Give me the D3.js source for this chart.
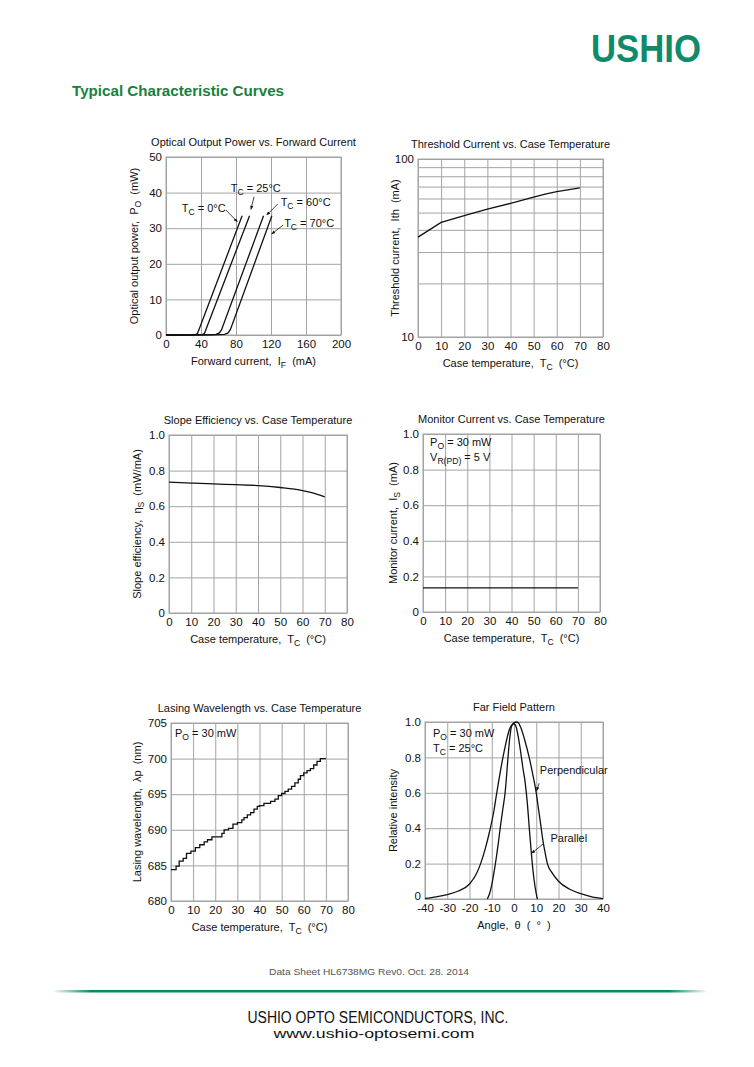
<!DOCTYPE html>
<html>
<head>
<meta charset="utf-8">
<script src="https://cdn.jsdelivr.net/npm/d3@7"></script>
<style>
  body { margin: 0; background: #fff; }
  svg { display: block; }
  text { font-family: "Liberation Sans", Arial, sans-serif; fill: #111; white-space: pre; }
</style>
</head>
<body>
<svg id="page" width="754" height="1067"></svg>
<script>
// ---- data ----
const opTicksX = [0, 40, 80, 120, 160, 200];
const opTicksY = [0, 10, 20, 30, 40, 50];
const op0 = [[0, 0], [25, 0.05], [34, 0.2], [36, 0.4], [87, 33.5]];
const op25 = [[0, 0], [30, 0.05], [42, 0.2], [44, 0.5], [95.5, 33.5]];
const op60 = [[0, 0], [45, 0.05], [57, 0.2], [61, 0.6], [63.5, 1.5], [65.5, 2.8], [111.5, 33.5]];
const op70 = [[0, 0], [55, 0.05], [67, 0.2], [71, 0.6], [73.5, 1.5], [75.5, 2.8], [121, 33.5]];

const tempTicks = [0, 10, 20, 30, 40, 50, 60, 70, 80];
const ithTicks = [10, 20, 30, 40, 50, 60, 70, 80, 90, 100];
const ith = [[0, 36.4], [10, 44], [20, 48], [30, 52.3], [40, 56.3], [50, 61], [55, 63.5], [60, 65.5], [70, 68.8]];

const unitTicks = [0, 0.2, 0.4, 0.6, 0.8, 1.0];
const slope = [[0, 0.735], [10, 0.73], [20, 0.725], [30, 0.721], [40, 0.716], [50, 0.705], [60, 0.688], [65, 0.673], [70, 0.652]];
const monitor = [[0, 0.135], [70, 0.135]];

const wlTicks = [680, 685, 690, 695, 700, 705];
const wavelength = [
  [0, 684.4], [2.3, 684.9], [3.7, 685.6], [5.5, 686.0], [7, 686.7], [9, 687.0], [11, 687.5],
  [13, 687.9], [15, 688.3], [16.5, 688.6], [18.5, 689.0], [23, 689.5], [24, 690.0], [26, 690.2],
  [28, 690.8], [30, 691.0], [32, 691.4], [33, 691.7], [34.5, 692.1], [36, 692.4], [37.5, 692.9],
  [39, 693.3], [40, 693.4], [42, 693.7], [45, 694.0], [47, 694.3], [48.5, 694.8], [50, 695.1],
  [51.5, 695.4], [53, 695.7], [54.5, 696.1], [56, 696.6], [57.5, 697.1], [58.5, 697.6], [60, 698.0],
  [61.5, 698.3], [63, 698.6], [64.5, 699.1], [66, 699.6], [67.5, 700.0], [70, 700.0]
];

const angleTicks = [-40, -30, -20, -10, 0, 10, 20, 30, 40];
const perpendicular = [
  [-40, 0.003], [-35, 0.012], [-30, 0.025], [-25, 0.045], [-20, 0.085], [-17, 0.14], [-15, 0.2],
  [-13, 0.28], [-11, 0.38], [-9, 0.5], [-8, 0.58], [-6, 0.73], [-4, 0.86], [-2, 0.96], [0, 0.995],
  [1, 1.0], [2, 0.995], [3, 0.97], [5, 0.89], [7, 0.79], [8.5, 0.7], [10, 0.6], [11, 0.51],
  [12, 0.42], [13, 0.33], [14, 0.26], [15, 0.2], [17, 0.15], [20, 0.1], [25, 0.055], [30, 0.03],
  [35, 0.012], [40, 0.002]
];
const parallel = [
  [-12, 0], [-11, 0.03], [-10, 0.08], [-9, 0.15], [-8, 0.23], [-7, 0.32], [-6, 0.42], [-5, 0.51],
  [-4, 0.6], [-3, 0.75], [-2, 0.9], [-1, 0.98], [0, 0.99], [1, 0.97], [2, 0.91], [3, 0.83],
  [4, 0.74], [5, 0.66], [6, 0.54], [7, 0.38], [8, 0.23], [9, 0.11], [10, 0.03], [10.5, 0]
];

const svg = d3.select('#page');
const grey = '#a3a3a3';

svg.append('defs').append('marker')
  .attr('id', 'arr')
  .attr('viewBox', '0 0 10 10')
  .attr('refX', 9).attr('refY', 5)
  .attr('markerWidth', 5).attr('markerHeight', 5)
  .attr('orient', 'auto')
  .append('path').attr('d', 'M0,1 L10,5 L0,9 Z').attr('fill', '#111');

// text with subscripts: parts = [[text], [text, 'sub'], ...]
const rich = (sel, parts, size) => {
  parts.forEach(([t, sub], i) => {
    const prevSub = i > 0 && parts[i - 1][1];
    sel.append('tspan')
      .attr('font-size', sub ? size * 0.78 : size)
      .attr('dy', sub ? 3 : (prevSub ? -3 : 0))
      .text(t);
  });
  return sel;
};

const panel = o => {
  const g = svg.append('g').attr('transform', `translate(${o.left},${o.top})`);
  const w = o.width, h = o.height;
  const x = d3.scaleLinear().domain(d3.extent(o.xTicks)).range([0, w]);
  const y = (o.log ? d3.scaleLog() : d3.scaleLinear()).domain(d3.extent(o.yTicks)).range([h, 0]);

  const xa = g.append('g').attr('transform', `translate(0,${h})`)
    .call(d3.axisBottom(x).tickValues(o.xTicks).tickSize(-h).tickPadding(5).tickFormat(d => String(d)));
  const ya = g.append('g')
    .call(d3.axisLeft(y).tickValues(o.yTicks).tickSize(-w).tickPadding(4).tickFormat(o.yFormat));
  [xa, ya].forEach(a => {
    a.select('.domain').remove();
    a.selectAll('line').attr('stroke', grey).attr('stroke-width', 1);
    a.selectAll('text').attr('font-size', 11.5).attr('fill', '#111')
      .attr('font-family', '"Liberation Sans", Arial, sans-serif');
  });
  g.append('rect').attr('width', w).attr('height', h)
    .attr('fill', 'none').attr('stroke', grey).attr('stroke-width', 1);

  g.append('text').attr('x', w / 2).attr('y', -11).attr('text-anchor', 'middle')
    .attr('font-size', 11).text(o.title);
  rich(g.append('text').attr('x', w / 2).attr('y', h + 30).attr('text-anchor', 'middle'), o.xLabel, 11);
  rich(g.append('text').attr('transform', `translate(${o.yLabelX},${h / 2}) rotate(-90)`)
    .attr('text-anchor', 'middle'), o.yLabel, 11);

  const line = d3.line().x(d => x(d[0])).y(d => y(d[1])).curve(o.curve || d3.curveLinear);
  o.series.forEach(s => {
    g.append('path').datum(s).attr('d', line)
      .attr('fill', 'none').attr('stroke', '#111').attr('stroke-width', 1.3);
  });
  (o.notes || []).forEach(n => {
    rich(g.append('text').attr('x', x(n.at[0])).attr('y', y(n.at[1])), n.parts, 11);
  });
  (o.leaders || []).forEach(l => {
    g.append('line')
      .attr('x1', x(l[0][0])).attr('y1', y(l[0][1]))
      .attr('x2', x(l[1][0])).attr('y2', y(l[1][1]))
      .attr('stroke', '#111').attr('stroke-width', 0.8).attr('marker-end', 'url(#arr)');
  });
  return g;
};

const f1 = d => d === 0 ? '0' : d.toFixed(1);
const caseTemp = [['Case temperature,  T'], ['C', 'sub'], ['  (°C)']];

panel({
  left: 166, top: 157, width: 175, height: 178,
  xTicks: opTicksX, yTicks: opTicksY, yFormat: d => String(d),
  title: 'Optical Output Power vs. Forward Current',
  xLabel: [['Forward current,  I'], ['F', 'sub'], ['  (mA)']],
  yLabel: [['Optical output power,  P'], ['O', 'sub'], ['  (mW)']], yLabelX: -28,
  series: [op0, op25, op60, op70],
  notes: [
    { at: [18, 34.6], parts: [['T'], ['C', 'sub'], [' = 0°C']] },
    { at: [74, 40.1], parts: [['T'], ['C', 'sub'], [' = 25°C']] },
    { at: [131, 36.1], parts: [['T'], ['C', 'sub'], [' = 60°C']] },
    { at: [135, 30.2], parts: [['T'], ['C', 'sub'], [' = 70°C']] }
  ],
  leaders: [
    [[68.6, 35.1], [81.5, 31.8]],
    [[100.6, 38.8], [97.1, 35.3]],
    [[127.7, 36.8], [115.1, 33.7]],
    [[134, 30.9], [120.8, 28.4]]
  ]
});

panel({
  left: 418, top: 159, width: 185, height: 178, log: true,
  xTicks: tempTicks, yTicks: ithTicks, yFormat: d => (d === 10 || d === 100) ? String(d) : '',
  title: 'Threshold Current vs. Case Temperature',
  xLabel: caseTemp,
  yLabel: [['Threshold current,  Ith  (mA)']], yLabelX: -19,
  series: [ith]
});

panel({
  left: 169, top: 435, width: 178, height: 178,
  xTicks: tempTicks, yTicks: unitTicks, yFormat: f1,
  title: 'Slope Efficiency vs. Case Temperature',
  xLabel: caseTemp,
  yLabel: [['Slope efficiency,  η'], ['S', 'sub'], ['  (mW/mA)']], yLabelX: -28,
  series: [slope], curve: d3.curveMonotoneX
});

panel({
  left: 423, top: 434, width: 177, height: 178,
  xTicks: tempTicks, yTicks: unitTicks, yFormat: f1,
  title: 'Monitor Current vs. Case Temperature',
  xLabel: caseTemp,
  yLabel: [['Monitor current,  I'], ['S', 'sub'], ['  (mA)']], yLabelX: -26,
  series: [monitor],
  notes: [
    { at: [3.2, 0.93], parts: [['P'], ['O', 'sub'], [' = 30 mW']] },
    { at: [3.2, 0.85], parts: [['V'], ['R(PD)', 'sub'], [' = 5 V']] }
  ]
});

panel({
  left: 171, top: 723, width: 177, height: 178,
  xTicks: tempTicks, yTicks: wlTicks, yFormat: d => String(d),
  title: 'Lasing Wavelength vs. Case Temperature',
  xLabel: caseTemp,
  yLabel: [['Lasing wavelength,  λp  (nm)']], yLabelX: -30,
  series: [wavelength], curve: d3.curveStepAfter,
  notes: [{ at: [1.8, 703.0], parts: [['P'], ['O', 'sub'], [' = 30 mW']] }]
});

const ff = panel({
  left: 425, top: 722, width: 178, height: 177,
  xTicks: angleTicks, yTicks: unitTicks, yFormat: f1,
  title: 'Far Field Pattern',
  xLabel: [['Angle,  θ  (  °  )']],
  yLabel: [['Relative intensity']], yLabelX: -28,
  series: [perpendicular, parallel], curve: d3.curveMonotoneX,
  notes: [
    { at: [-36.4, 0.915], parts: [['P'], ['O', 'sub'], [' = 30 mW']] },
    { at: [-36.4, 0.83], parts: [['T'], ['C', 'sub'], [' = 25°C']] },
    { at: [11.6, 0.706], parts: [['Perpendicular']] },
    { at: [16.4, 0.322], parts: [['Parallel']] }
  ],
  leaders: [
    [[11.3, 0.654], [10.2, 0.612]],
    [[13.1, 0.311], [7.9, 0.258]]
  ]
});
// keep the corner "0" clear of the "-40" below it
ff.selectAll('.tick text').filter(d => d === 0 && !Number.isNaN(+d)).each(function () {
  if (this.parentNode.parentNode.getAttribute('transform') === null) d3.select(this).attr('dy', '0.05em');
});

// ---- page furniture ----
svg.append('text').attr('x', 591).attr('y', 62)
  .attr('font-family', '"DejaVu Sans", sans-serif').attr('font-weight', 'bold')
  .attr('font-size', 39).attr('textLength', 110).attr('lengthAdjust', 'spacingAndGlyphs')
  .style('fill', '#0f8a6a').text('USHIO');

svg.append('text').attr('x', 72).attr('y', 96)
  .attr('font-weight', 'bold').attr('font-size', 14.5)
  .attr('textLength', 212).attr('lengthAdjust', 'spacingAndGlyphs')
  .style('fill', '#17803d').text('Typical Characteristic Curves');

svg.append('text').attr('x', 369).attr('y', 975).attr('text-anchor', 'middle')
  .attr('font-size', 9.5).attr('textLength', 200).attr('lengthAdjust', 'spacingAndGlyphs')
  .style('fill', '#555').text('Data Sheet HL6738MG Rev0. Oct. 28. 2014');

const grad = svg.select('defs').append('linearGradient').attr('id', 'rule');
[[0, '#0b8a5e', 0], [0.06, '#0b8a5e', 1], [0.94, '#0b8a5e', 1], [1, '#0b8a5e', 0]].forEach(([o, c, a]) => {
  grad.append('stop').attr('offset', o).attr('stop-color', c).attr('stop-opacity', a);
});
svg.append('rect').attr('x', 52).attr('y', 990).attr('width', 656).attr('height', 2.5)
  .attr('fill', 'url(#rule)');

svg.append('text').attr('x', 378).attr('y', 1023).attr('text-anchor', 'middle')
  .attr('font-size', 16).attr('textLength', 261).attr('lengthAdjust', 'spacingAndGlyphs')
  .style('fill', '#111').text('USHIO OPTO SEMICONDUCTORS, INC.');
svg.append('text').attr('x', 374).attr('y', 1038).attr('text-anchor', 'middle')
  .attr('font-family', '"DejaVu Sans", sans-serif')
  .attr('font-size', 13).attr('textLength', 201).attr('lengthAdjust', 'spacingAndGlyphs')
  .style('fill', '#111').text('www.ushio-optosemi.com');
</script>
</body>
</html>
